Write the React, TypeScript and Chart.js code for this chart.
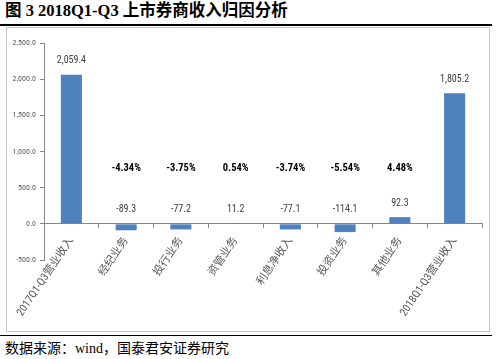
import React, { useEffect, useRef } from "react";
import { Chart, registerables } from "chart.js";

Chart.register(...registerables);

const categories = [
  "2017Q1-Q3营业收入",
  "经纪业务",
  "投行业务",
  "资管业务",
  "利息净收入",
  "投资业务",
  "其他业务",
  "2018Q1-Q3营业收入",
];
const values = [2059.4, -89.3, -77.2, 11.2, -77.1, -114.1, 92.3, 1805.2];
const pctLabels = ["", "-4.34%", "-3.75%", "0.54%", "-3.74%", "-5.54%", "4.48%", ""];
const yTicks = { min: -500, max: 2500, step: 500 };
const PCT_LEVEL = 770;

const NARROW = "'Roboto Condensed', 'DejaVu Sans Condensed', sans-serif";

const fmt = (v: number) =>
  v.toLocaleString("en-US", { minimumFractionDigits: 1, maximumFractionDigits: 1 });

const labelPlugin = {
  id: "barLabels",
  afterDatasetsDraw(chart: any) {
    const ctx = chart.ctx;
    const meta = chart.getDatasetMeta(0);
    const yScale = chart.scales.y;
    ctx.save();
    ctx.textAlign = "center";
    ctx.textBaseline = "middle";
    meta.data.forEach((bar: any, i: number) => {
      const v = values[i];
      const y = yScale.getPixelForValue(Math.max(v, 0)) - 14;
      ctx.font = `10px ${NARROW}`;
      ctx.fillStyle = "#404040";
      ctx.fillText(fmt(v), bar.x, y);
      if (pctLabels[i]) {
        ctx.font = `bold 10.5px ${NARROW}`;
        ctx.fillStyle = "#000000";
        ctx.fillText(pctLabels[i], bar.x, yScale.getPixelForValue(PCT_LEVEL));
      }
    });
    ctx.restore();
  },
};

export default function App() {
  const ref = useRef<HTMLCanvasElement>(null);
  useEffect(() => {
    const chart = new Chart(ref.current!, {
      type: "bar",
      data: {
        labels: categories,
        datasets: [
          {
            data: values,
            backgroundColor: "#4F81BD",
            barPercentage: 0.385,
            categoryPercentage: 1,
          },
        ],
      },
      options: {
        animation: false,
        responsive: false,
        maintainAspectRatio: false,
        layout: { padding: { top: 14, right: 7, bottom: 71, left: 0 } },
        plugins: { legend: { display: false }, tooltip: { enabled: false } },
        scales: {
          x: {
            position: { y: 0 } as any,
            afterFit: (s: any) => {
              s.paddingLeft = 0;
              s.paddingRight = 0;
            },
            grid: {
              offset: true,
              drawOnChartArea: false,
              drawTicks: true,
              tickLength: 4,
              color: "#868686",
            },
            border: { color: "#868686" },
            ticks: {
              autoSkip: false,
              minRotation: 56,
              maxRotation: 56,
              padding: 7,
              color: "#595959",
              font: { size: 11, family: "'Roboto Condensed', 'Noto Sans CJK SC', sans-serif" },
            },
          },
          y: {
            min: yTicks.min,
            max: yTicks.max,
            afterFit: (s: any) => {
              s.width = 37;
            },
            grid: { drawOnChartArea: false, drawTicks: true, tickLength: 4, color: "#868686" },
            border: { color: "#868686" },
            ticks: {
              stepSize: yTicks.step,
              padding: 4,
              color: "#595959",
              font: { size: 8, family: NARROW },
              callback: (v: any) => fmt(Number(v)),
            },
          },
        },
      },
      plugins: [labelPlugin],
    });
    return () => chart.destroy();
  }, []);

  return (
    <div style={{ position: "fixed", left: 0, top: 0, width: 499, height: 359, background: "#fff" }}>
      <div
        style={{
          position: "absolute",
          left: 5,
          top: 1,
          fontSize: 16.5,
          fontWeight: "bold",
          fontFamily: "'Liberation Serif', 'Noto Sans CJK SC', serif",
          color: "#000",
          whiteSpace: "nowrap",
          lineHeight: "20px",
        }}
      >
        图 3 2018Q1-Q3 上市券商收入归因分析
      </div>
      <div style={{ position: "absolute", left: 0, top: 24, width: 492, height: 2, background: "#000" }} />
      <div
        style={{
          position: "absolute",
          left: 6,
          top: 27,
          width: 482,
          height: 303,
          border: "1px solid #c8c8c8",
        }}
      />
      <canvas
        ref={ref}
        width={482}
        height={302}
        style={{ position: "absolute", left: 7, top: 29, width: 482, height: 302 }}
      />
      <div style={{ position: "absolute", left: 0, top: 335, width: 492, height: 1, background: "#000" }} />
      <div
        style={{
          position: "absolute",
          left: 5,
          top: 340,
          fontSize: 14,
          fontFamily: "'Liberation Serif', 'Noto Sans CJK SC', serif",
          color: "#000",
          whiteSpace: "nowrap",
          lineHeight: "18px",
        }}
      >
        数据来源：wind，国泰君安证券研究
      </div>
    </div>
  );
}
